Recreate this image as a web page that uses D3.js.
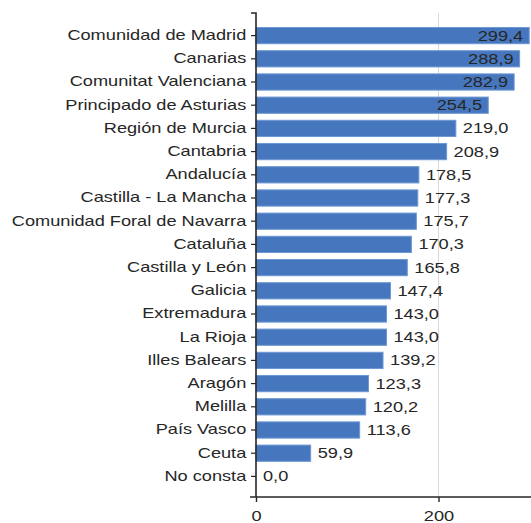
<!DOCTYPE html>
<html>
<head>
<meta charset="utf-8">
<script src="https://cdn.jsdelivr.net/npm/d3@7"></script>
<style>
  body { margin: 0; background: #fff; }
  text { font-family: "Liberation Sans", Arial, sans-serif; fill: #262626; }
</style>
</head>
<body>
<div id="chart"></div>
<script>
const regions = ["Comunidad de Madrid", "Canarias", "Comunitat Valenciana", "Principado de Asturias",
    "Región de Murcia", "Cantabria", "Andalucía", "Castilla - La Mancha", "Comunidad Foral de Navarra",
    "Cataluña", "Castilla y León", "Galicia", "Extremadura", "La Rioja", "Illes Balears", "Aragón",
    "Melilla", "País Vasco", "Ceuta", "No consta"];
const values = [299.4, 288.9, 282.9, 254.5, 219.0, 208.9, 178.5, 177.3, 175.7, 170.3, 165.8,
    147.4, 143.0, 143.0, 139.2, 123.3, 120.2, 113.6, 59.9, 0.0];
const xTicks = [0, 200];

const W = 531, H = 523;
const axisX = 256, axisTop = 13, axisBottom = 497;
const sx = 1.3; // the source text is stretched sideways

const data = regions.map((r, i) => ({region: r, value: values[i]}));
const fmt = v => d3.format(".1f")(v).replace(".", ",");

const svg = d3.select("#chart").append("svg")
    .attr("width", W)
    .attr("height", H);

const x = d3.scaleLinear()
    .domain([0, 300])
    .range([axisX, axisX + 0.9125 * 300]);

const y = d3.scaleBand()
    .domain(regions)
    .range([24, 488])
    .paddingInner(0.3)
    .paddingOuter(0.15);

// grid line
svg.append("g")
    .selectAll("line")
    .data(xTicks.filter(d => d > 0))
    .join("line")
    .attr("x1", d => x(d)).attr("x2", d => x(d))
    .attr("y1", axisTop).attr("y2", axisBottom)
    .attr("stroke", "#d9d9d9")
    .attr("stroke-width", 1);

// bars
svg.append("g")
    .selectAll("rect")
    .data(data)
    .join("rect")
    .attr("x", x(0))
    .attr("y", d => y(d.region))
    .attr("width", d => x(d.value) - x(0))
    .attr("height", y.bandwidth())
    .attr("fill", "#4677be")
    .attr("stroke", "#6d98d4")
    .attr("stroke-width", 1);

// value labels
const labels = svg.append("g")
    .selectAll("g")
    .data(data)
    .join("g")
    .attr("transform", d => {
        const inside = d.value > 250;
        const px = inside ? x(d.value) - 6 : x(d.value) + 7;
        return `translate(${px},${y(d.region) + y.bandwidth() / 2})`;
    });

labels.append("text")
    .attr("transform", `scale(${sx},1)`)
    .attr("dy", "0.36em")
    .attr("text-anchor", d => d.value > 250 ? "end" : "start")
    .style("font-size", "14px")
    .text(d => fmt(d.value));

// y axis
const yAxis = svg.append("g")
    .attr("transform", `translate(${axisX},0)`)
    .call(d3.axisLeft(y).tickSize(5).tickSizeOuter(0));
yAxis.select(".domain").remove();
yAxis.selectAll(".tick line").attr("stroke", "#262626").attr("stroke-width", 1.2);
yAxis.selectAll(".tick text")
    .attr("x", -7.5)
    .attr("transform", `scale(${sx},1)`)
    .style("font-size", "14px")
    .attr("fill", "#262626");

svg.append("path")
    .attr("d", `M${axisX - 5},${axisTop}H${axisX}V${axisBottom}`)
    .attr("fill", "none")
    .attr("stroke", "#262626")
    .attr("stroke-width", 1.6);

// x axis
const xAxis = svg.append("g")
    .attr("transform", `translate(0,${axisBottom})`)
    .call(d3.axisBottom(x).tickValues(xTicks).tickSize(5).tickSizeOuter(0).tickFormat(d3.format("d")));
xAxis.select(".domain").remove();
xAxis.selectAll(".tick line").attr("stroke", "#262626").attr("stroke-width", 1.4);
xAxis.selectAll(".tick text")
    .attr("y", 14)
    .attr("transform", `scale(${sx},1)`)
    .style("font-size", "14px")
    .attr("fill", "#262626");

svg.append("line")
    .attr("x1", axisX - 6).attr("x2", W)
    .attr("y1", axisBottom).attr("y2", axisBottom)
    .attr("stroke", "#262626")
    .attr("stroke-width", 1.6);
</script>
</body>
</html>
